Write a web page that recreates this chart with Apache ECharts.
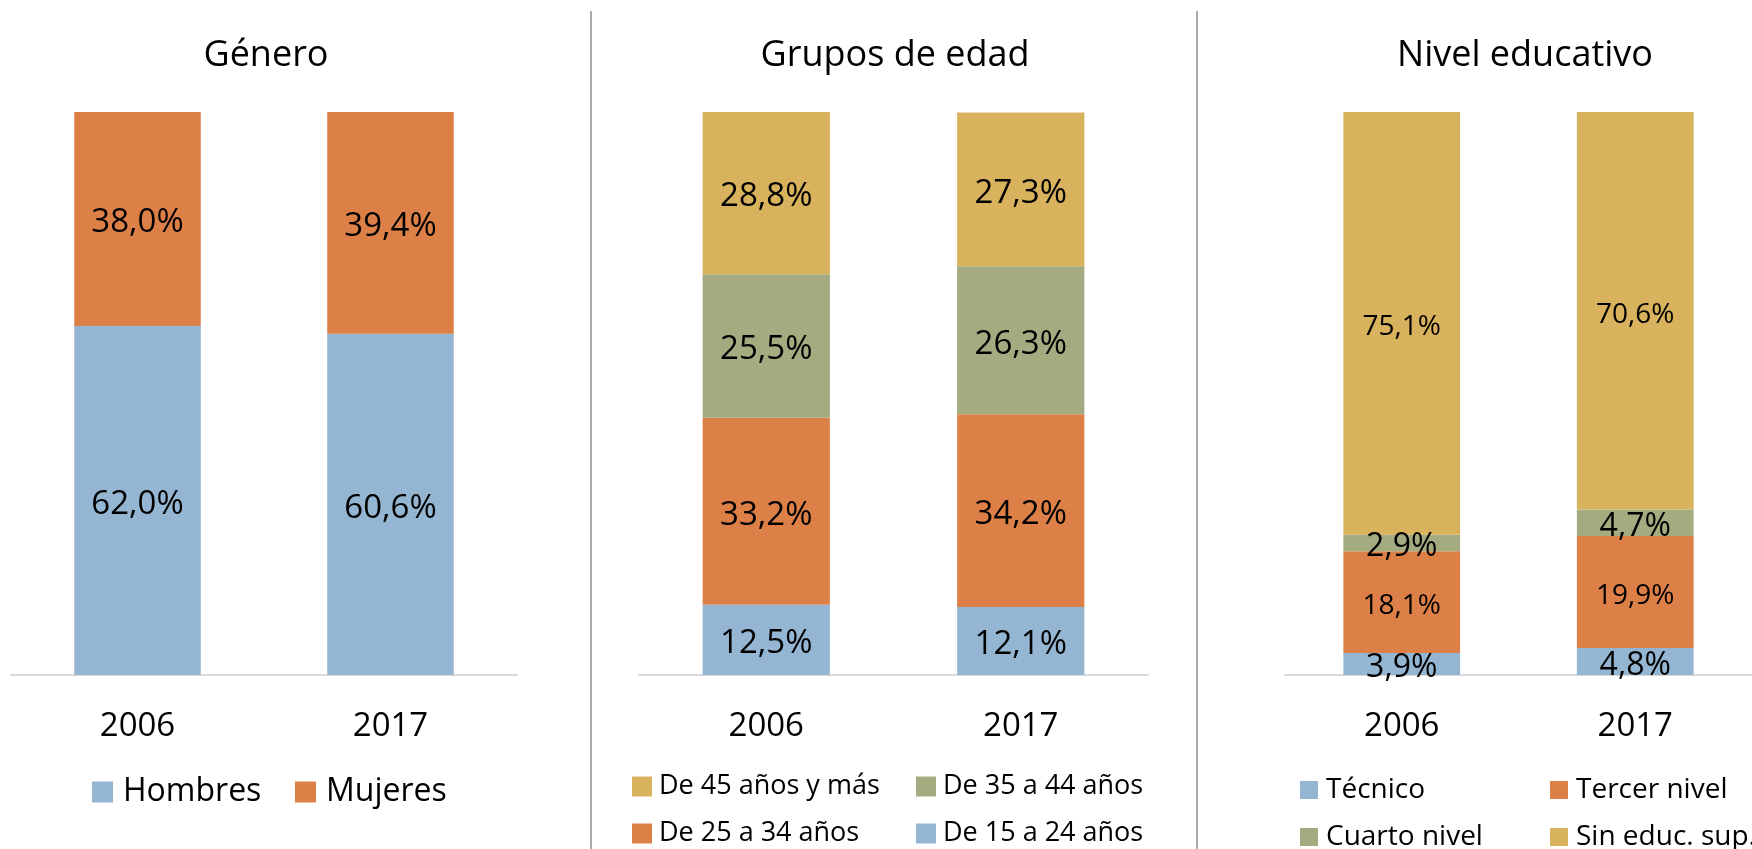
<!DOCTYPE html>
<html>
<head>
<meta charset="utf-8">
<script src="https://cdn.jsdelivr.net/npm/echarts@6/dist/echarts.min.js"></script>
<style>
html,body{margin:0;padding:0;background:#fff;}
#chart{width:1752px;height:849px;}
</style>
</head>
<body>
<div id="chart"></div>
<script>
// ---- data ----
const years = ['2006', '2017'];
const titles = ['Género', 'Grupos de edad', 'Nivel educativo'];

const generoNames = ['Hombres', 'Mujeres'];
const hombres = [62.0, 60.6];
const mujeres = [38.0, 39.4];

const edadNames = ['De 15 a 24 años', 'De 25 a 34 años', 'De 35 a 44 años', 'De 45 años y más'];
const edad15a24 = [12.5, 12.1];
const edad25a34 = [33.2, 34.2];
const edad35a44 = [25.5, 26.3];
const edad45mas = [28.8, 27.3];

const eduNames = ['Técnico', 'Tercer nivel', 'Cuarto nivel', 'Sin educ. sup.'];
const tecnico = [3.9, 4.8];
const tercerNivel = [18.1, 19.9];
const cuartoNivel = [2.9, 4.7];
const sinEducSup = [75.1, 70.6];

// ---- styling ----
const FONT = 'Open Sans';
const C_BLUE = '#94B6D2', C_ORANGE = '#DD8047', C_GREEN = '#A5AB81', C_GOLD = '#D8B25C';

const fmt = p => p.value.toFixed(1).replace('.', ',') + '%';

function barSeries(name, data, idx, color, fontSize) {
  return {
    name: name, type: 'bar', stack: 's' + idx, data: data,
    xAxisIndex: idx, yAxisIndex: idx, barWidth: '50%',
    itemStyle: { color: color },
    label: { show: true, position: 'inside', formatter: fmt, color: '#000',
             fontFamily: FONT, fontSize: fontSize, offset: [0, 4] }
  };
}

const grids = [
  { left: 11, top: 112, width: 506, height: 563 },
  { left: 639, top: 112, width: 509, height: 563 },
  { left: 1285, top: 112, width: 470, height: 563 }
];

const xAxes = grids.map((g, i) => ({
  type: 'category', gridIndex: i, data: years,
  axisLine: { show: true, lineStyle: { color: '#d9d9d9', width: 2 } },
  axisTick: { show: false },
  axisLabel: { color: '#000', fontFamily: FONT, fontSize: 33, margin: 35 }
}));
const yAxes = grids.map((g, i) => ({
  type: 'value', gridIndex: i, min: 0, max: 100, show: false, splitLine: { show: false }
}));

const titleCenters = [261, 890, 1520];

function legendItem(name, left, top, size, fontSize, textGap) {
  return {
    left: left, top: top, padding: 0, orient: 'horizontal', icon: 'rect',
    itemWidth: size, itemHeight: size, data: [name],
    textStyle: { fontFamily: FONT, fontSize: fontSize, lineHeight: fontSize + 2, color: '#000',
                 padding: [0, 0, 0, textGap] }
  };
}

const option = {
  animation: false,
  backgroundColor: '#fff',
  textStyle: { fontFamily: FONT },
  title: titles.map((t, i) => ({
    text: t, left: titleCenters[i], top: 33, textAlign: 'center',
    textStyle: { fontFamily: FONT, fontSize: 36, fontWeight: 'normal', color: '#000' }
  })),
  grid: grids,
  xAxis: xAxes,
  yAxis: yAxes,
  legend: [
    legendItem(generoNames[0], 92, 775, 21, 32, 5),
    legendItem(generoNames[1], 295, 775, 21, 32, 5),
    legendItem(edadNames[3], 632, 772, 20, 27, 2),
    legendItem(edadNames[2], 916, 772, 20, 27, 2),
    legendItem(edadNames[1], 632, 819, 20, 27, 2),
    legendItem(edadNames[0], 916, 819, 20, 27, 2),
    legendItem(eduNames[0], 1300, 775, 18, 28, 3),
    legendItem(eduNames[1], 1550, 775, 18, 28, 3),
    legendItem(eduNames[2], 1300, 822, 18, 28, 3),
    legendItem(eduNames[3], 1550, 822, 18, 28, 3)
  ],
  graphic: [
    { type: 'line', shape: { x1: 591, y1: 11, x2: 591, y2: 849 }, style: { stroke: '#aaaaaa', lineWidth: 2 } },
    { type: 'line', shape: { x1: 1197, y1: 11, x2: 1197, y2: 849 }, style: { stroke: '#aaaaaa', lineWidth: 2 } }
  ],
  series: [
    barSeries(generoNames[0], hombres, 0, C_BLUE, 33),
    barSeries(generoNames[1], mujeres, 0, C_ORANGE, 33),
    barSeries(edadNames[0], edad15a24, 1, C_BLUE, 33),
    barSeries(edadNames[1], edad25a34, 1, C_ORANGE, 33),
    barSeries(edadNames[2], edad35a44, 1, C_GREEN, 33),
    barSeries(edadNames[3], edad45mas, 1, C_GOLD, 33),
    barSeries(eduNames[0], tecnico, 2, C_BLUE, 32),
    barSeries(eduNames[1], tercerNivel, 2, C_ORANGE, 28),
    barSeries(eduNames[2], cuartoNivel, 2, C_GREEN, 32),
    barSeries(eduNames[3], sinEducSup, 2, C_GOLD, 28)
  ]
};

const chart = echarts.init(document.getElementById('chart'), null, { renderer: 'canvas' });
chart.setOption(option);
</script>
</body>
</html>
